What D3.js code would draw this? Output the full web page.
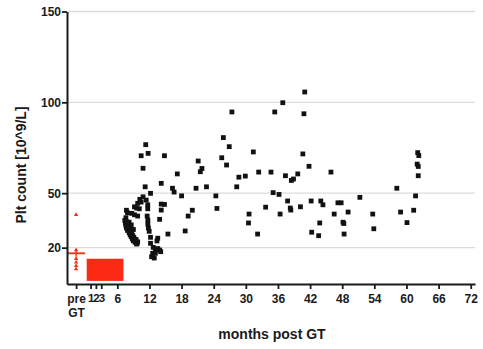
<!DOCTYPE html>
<html>
<head>
<meta charset="utf-8">
<script src="https://cdn.jsdelivr.net/npm/d3@7/dist/d3.min.js"></script>
<style>
  html, body { margin: 0; padding: 0; background: #fff; }
  svg { display: block; }
  text { font-family: "Liberation Sans", Arial, sans-serif; font-weight: bold; fill: #1a1a1a; }
</style>
</head>
<body>
<svg id="chart" width="483" height="349"></svg>
<script>
// Platelet counts after gene therapy: [month, Plt 10^9/L]
const postPoints = [
  // dense band, months 7-10
  [7.4,35.0],[7.5,33.5],[7.6,32.2],[7.8,34.2],[7.7,30.8],[7.9,29.5],[8.0,32.5],[8.1,31.0],
  [8.2,28.2],[8.3,30.0],[8.4,27.0],[8.5,29.0],[8.6,26.0],[8.7,27.8],[8.8,24.8],[8.9,26.6],
  [9.0,23.8],[9.1,25.6],[9.3,23.0],[9.5,24.5],[9.6,22.0],[9.8,23.2],[7.6,36.5],[8.2,34.0],
  [8.6,32.5],[9.0,30.0],[9.7,22.4],
  [7.7,40.6],[7.9,39.2],[8.7,38.9],[9.2,38.1],[9.8,37.4],[9.2,42.5],[9.6,41.8],[10.1,41.4],
  [9.8,44.4],[10.45,45.1],[10.2,46.6],[10.8,48.0],
  // months 10-15
  [11.3,76.7],[10.45,70.6],[11.75,71.9],[10.8,63.7],[11.2,53.5],[12.2,49.9],[11.4,46.2],
  [11.68,43.6],[11.68,41.4],[11.57,37.4],[11.7,35.2],[11.7,33.0],[11.8,30.8],[11.95,29.0],
  [12.2,25.7],[13.55,25.2],[13.4,23.7],[12.2,22.4],[12.7,20.2],[13.1,19.2],[13.55,19.5],
  [12.6,16.9],[13.1,16.9],[12.4,15.0],[12.9,14.3],[13.9,18.7],[14.1,17.8],
  [14.2,55.4],[14.2,44.0],[14.2,40.7],[13.9,35.6],[14.8,70.6],[14.8,43.8],[15.45,27.5],
  // months 16-30
  [17.2,60.6],[16.3,52.7],[16.6,50.6],[18.0,48.5],[18.67,29.2],[19.23,37.4],[20.0,40.6],
  [20.7,52.7],[21.1,67.7],[21.8,63.6],[21.5,61.8],[22.65,53.5],[24.4,48.5],[24.6,41.6],
  [25.8,80.6],[26.9,75.6],[25.5,69.5],[26.4,65.5],[27.4,94.7],[28.3,53.5],[28.7,58.8],
  [29.9,59.4],
  // months 30-50
  [30.6,38.5],[30.5,33.6],[31.4,72.7],[32.2,27.5],[32.4,61.6],[33.7,42.3],[34.7,61.6],
  [35.1,50.3],[35.4,94.7],[36.2,49.3],[36.4,38.5],[36.9,99.8],[37.4,59.6],[37.8,45.7],
  [38.3,41.8],[38.4,40.7],[38.5,57.0],[38.9,57.8],[39.7,60.6],[40.2,42.5],[40.65,71.6],
  [40.85,93.7],[41.0,105.7],[41.8,64.8],[42.2,45.7],[42.3,28.5],[43.6,26.6],[43.8,33.6],
  [44.0,45.7],[44.4,43.6],[45.9,61.6],[46.5,38.5],[47.2,44.7],[47.8,44.7],[48.15,34.0],
  [48.3,33.3],[48.35,27.5],[49.1,39.6],
  // months 50-63
  [51.3,47.7],[53.7,38.5],[53.9,30.4],[58.2,52.7],[58.9,39.6],[60.1,33.8],[61.35,40.6],
  [61.7,48.5],[62.2,59.6],[62.0,66.0],[62.2,64.7],[62.1,72.3],[62.3,70.7]
];

// Pre-treatment values and their mean
const preValues = [38.1, 18.7, 13.9, 11.9, 10.1, 8.3];
const preMean = 16.9;
const preSpread = [15.0, 18.8];

// Shaded red block over the first months
const redBlock = { from: 0.28, to: 7.14, low: 1.7, high: 13.9 };

const preMonth = -1.7;
const xTickValues = [preMonth, 1, 2, 3, 6, 12, 18, 24, 30, 36, 42, 48, 54, 60, 66, 72];
const yTickValues = [20, 50, 100, 150];

const svg = d3.select("#chart");
const x = d3.scaleLinear().domain([-3.4, 72.8]).range([67, 475]);
const y = d3.scaleLinear().domain([0, 150]).range([284, 11.5]);

const red = "#fb2a12";
const ink = "#1a1a1a";

// horizontal grid
svg.append("g").selectAll("line").data(yTickValues).join("line")
  .attr("x1", x(-3.4) + 1).attr("x2", x(72.8))
  .attr("y1", d => y(d)).attr("y2", d => y(d))
  .attr("stroke", "#dcdcdc").attr("stroke-width", 1.4);

// red block
svg.append("rect")
  .attr("x", x(redBlock.from)).attr("width", x(redBlock.to) - x(redBlock.from))
  .attr("y", y(redBlock.high)).attr("height", y(redBlock.low) - y(redBlock.high))
  .attr("fill", red);

// pre values
const tri = d3.symbol().type(d3.symbolTriangle).size(8);
svg.append("g").selectAll("path").data(preValues).join("path")
  .attr("d", tri)
  .attr("transform", d => `translate(${x(preMonth)},${y(d)})`)
  .attr("fill", red);
svg.append("line")
  .attr("x1", x(preMonth) - 9).attr("x2", x(preMonth) + 9)
  .attr("y1", y(preMean)).attr("y2", y(preMean))
  .attr("stroke", red).attr("stroke-width", 1.8);
svg.append("line")
  .attr("x1", x(preMonth)).attr("x2", x(preMonth))
  .attr("y1", y(preSpread[0])).attr("y2", y(preSpread[1]))
  .attr("stroke", red).attr("stroke-width", 1.4);

// post-treatment squares
const s = 4.8;
svg.append("g").selectAll("rect").data(postPoints).join("rect")
  .attr("x", d => x(d[0]) - s / 2).attr("y", d => y(d[1]) - s / 2)
  .attr("width", s).attr("height", s).attr("fill", "#111");

// axes
const xLabel = d => d === preMonth ? "pre" : String(d);
const xAxis = d3.axisBottom(x).tickValues(xTickValues).tickFormat(xLabel)
  .tickSize(5).tickSizeOuter(0);
const gx = svg.append("g").attr("transform", `translate(0,${y(0)})`).call(xAxis);
gx.select(".domain").attr("stroke", ink).attr("stroke-width", 2);
gx.selectAll(".tick line").attr("stroke", ink).attr("stroke-width", 1.8);
gx.selectAll(".tick text").attr("font-size", 12).attr("y", 10).attr("dy", "0.71em")
  .attr("font-family", "Liberation Sans, Arial, sans-serif").attr("font-weight", "bold")
  .attr("fill", ink);
gx.selectAll(".tick").filter(d => d === preMonth).append("text")
  .attr("y", 24.5).attr("dy", "0.71em").attr("text-anchor", "middle")
  .attr("font-size", 12).attr("fill", ink).text("GT");
gx.selectAll(".tick text").filter(d => d === 1 || d === 2 || d === 3)
  .attr("font-size", 11.5).attr("letter-spacing", "-0.3px");

const yAxis = d3.axisLeft(y).tickValues(yTickValues).tickSize(5).tickSizeOuter(0);
const gy = svg.append("g").attr("transform", `translate(${x(-3.4)},0)`).call(yAxis);
gy.select(".domain").attr("stroke", ink).attr("stroke-width", 2);
gy.selectAll(".tick line").attr("stroke", ink).attr("stroke-width", 1.8);
gy.selectAll(".tick text").attr("font-size", 12).attr("x", -6)
  .attr("font-family", "Liberation Sans, Arial, sans-serif").attr("font-weight", "bold")
  .attr("fill", ink);

// axis titles
svg.append("text").attr("x", 272).attr("y", 339).attr("text-anchor", "middle")
  .attr("font-size", 14).text("months post GT");
svg.append("text").attr("transform", "translate(26,165) rotate(-90)")
  .attr("text-anchor", "middle").attr("font-size", 14).text("Plt count [10^9/L]");
</script>
</body>
</html>
